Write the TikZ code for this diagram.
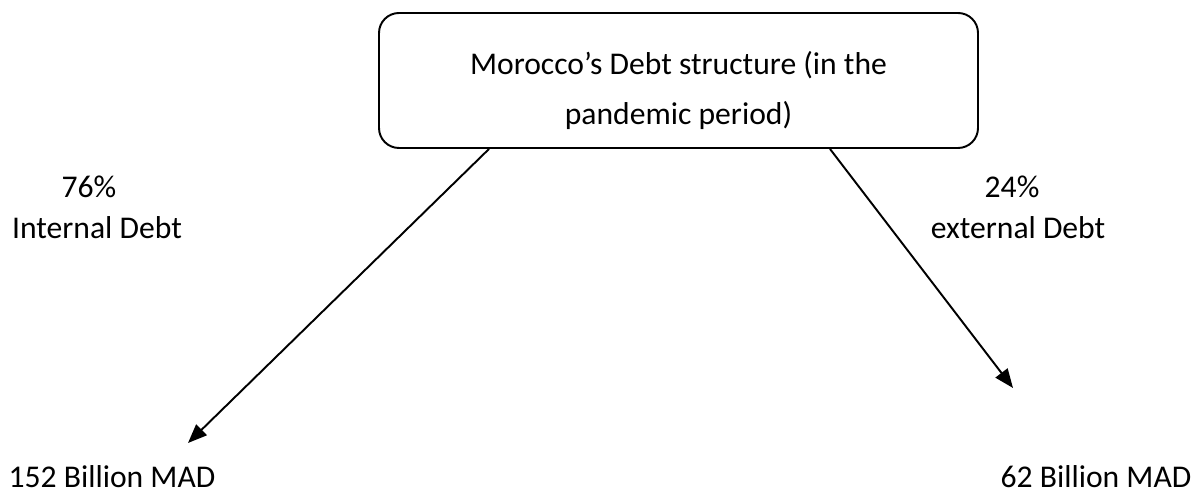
\documentclass[tikz,border=0pt]{standalone}
\usepackage{fontspec}
\setmainfont{Carlito}
\usetikzlibrary{arrows.meta}
\begin{document}
\fontsize{18}{28.5}\selectfont
\begin{tikzpicture}[line width=1.1pt,
  every node/.style={inner sep=1pt},
  debtbox/.style={draw,rounded corners=0.4cm,minimum width=11.98cm,minimum height=2.7cm,align=center},
  debtarrow/.style={-{Triangle[length=0.38cm,width=0.3cm]}}
]
    \useasboundingbox (0,0) rectangle (23.94,9.96);
    \node[debtbox] (debt) at (13.57,8.35) {\rule{0pt}{0.88cm}Morocco’s Debt structure (in the\\ pandemic period)};
    \node (pctint) at (1.78,6.22) {76\%};
    \node (lblint) at (1.94,5.40) {Internal Debt};
    \node (pctext) at (20.24,6.22) {24\%};
    \node (lblext) at (20.36,5.40) {external Debt};
    \node (amtint) at (2.24,0.42) {152 Billion MAD};
    \node (amtext) at (21.92,0.42) {62 Billion MAD};
    \coordinate (tipint) at (3.76,1.10);
    \coordinate (tipext) at (20.26,2.20);
    \draw[debtarrow] ([xshift=-3.79cm]debt.south) -- (tipint);
    \draw[debtarrow] ([xshift=3.03cm]debt.south) -- (tipext);
\end{tikzpicture}
\end{document}
